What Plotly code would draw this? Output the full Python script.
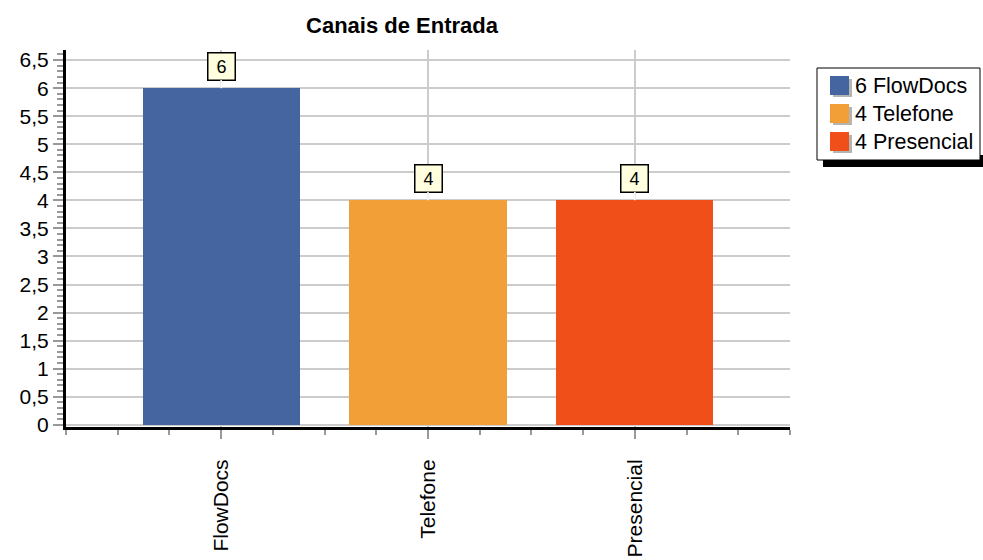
import plotly.graph_objects as go

# dados do gráfico
canais = ["FlowDocs", "Telefone", "Presencial"]
quantidades = [6, 4, 4]
cores = ["#4565a1", "#f29f37", "#f04f19"]

# área do gráfico em pixels
X0, X1, Y0, Y1 = 66, 790, 50, 427


def px(x):
    return (x - X0) / (X1 - X0)


def py(y):
    return (Y1 - y) / (Y1 - Y0)


fig = go.Figure()

for i, (canal, qtd, cor) in enumerate(zip(canais, quantidades, cores)):
    fig.add_trace(go.Bar(
        x=[i], y=[qtd], name=f"{qtd} {canal}",
        marker=dict(color=cor, line=dict(width=0)),
        width=0.76, hoverinfo="skip", showlegend=False,
    ))
    # rótulo de valor em caixa amarela
    fig.add_annotation(
        x=i, y=qtd, text=str(qtd), showarrow=True, arrowhead=0,
        arrowcolor="white", arrowwidth=1.5, ax=0, ay=-22, standoff=0,
        font=dict(size=18, color="black"), bgcolor="#ffffe0",
        bordercolor="black", borderwidth=1.5, borderpad=3, width=20,
    )

# legenda desenhada à mão (caixa com sombra)
fig.add_shape(type="rect", xref="paper", yref="paper",
              x0=px(823), x1=px(985), y0=py(167), y1=py(155),
              fillcolor="black", line=dict(width=0))
fig.add_shape(type="rect", xref="paper", yref="paper",
              x0=px(817), x1=px(980), y0=py(160), y1=py(68),
              fillcolor="white", line=dict(color="black", width=1))
for i, (canal, qtd, cor) in enumerate(zip(canais, quantidades, cores)):
    cy = 86 + 28 * i
    fig.add_shape(type="rect", xref="paper", yref="paper",
                  x0=px(833), x1=px(852), y0=py(cy + 11), y1=py(cy - 7),
                  fillcolor="#b4b4b4", line=dict(width=0))
    fig.add_shape(type="rect", xref="paper", yref="paper",
                  x0=px(830), x1=px(849), y0=py(cy + 9), y1=py(cy - 10),
                  fillcolor=cor, line=dict(width=0))
    fig.add_annotation(xref="paper", yref="paper", x=px(853), y=py(cy),
                       xanchor="left", yanchor="middle", showarrow=False,
                       text=f"{qtd} {canal}", font=dict(size=21.5, color="black"))

fig.update_layout(
    width=983, height=560,
    margin=dict(l=X0, r=983 - X1, t=Y0, b=560 - Y1),
    paper_bgcolor="white", plot_bgcolor="white",
    font=dict(family="Liberation Sans, Arial, sans-serif", size=21, color="black"),
    separators=",.",
    bargap=0,
    showlegend=False,
    title=dict(text="<b>Canais de Entrada</b>", x=402 / 983, xanchor="center",
               y=1 - 25 / 560, yanchor="middle", font=dict(size=22)),
)

fig.update_xaxes(
    range=[-0.75, 2.75], tickmode="array",
    tickvals=list(range(len(canais))), ticktext=canais,
    tickangle=-90, tickfont=dict(size=21), automargin=False,
    showline=True, linecolor="black", linewidth=3,
    ticks="outside", ticklen=9, tickwidth=2, tickcolor="#999999",
    ticklabelstandoff=12,
    showgrid=True, gridcolor="#cccccc", gridwidth=1.5,
    zeroline=False,
    minor=dict(dtick=0.25, tick0=0, ticks="outside", ticklen=5,
               tickwidth=2, tickcolor="#999999", showgrid=False),
)

fig.update_yaxes(
    range=[-0.04, 6.68], dtick=0.5, tick0=0,
    tickfont=dict(size=21), automargin=False,
    showline=True, linecolor="black", linewidth=3,
    ticks="outside", ticklen=10, tickwidth=2, tickcolor="#999999",
    showgrid=True, gridcolor="#cccccc", gridwidth=1.5,
    zeroline=False,
    minor=dict(dtick=0.1, tick0=0, ticks="outside", ticklen=6,
               tickwidth=1.5, tickcolor="#999999", showgrid=False),
)

# tira a margem padrão do body para o gráfico ocupar a janela toda
fig.write_html("out.html", config={"displayModeBar": False},
               post_script="document.body.style.margin='0';"
                           "document.body.style.overflow='hidden';")
